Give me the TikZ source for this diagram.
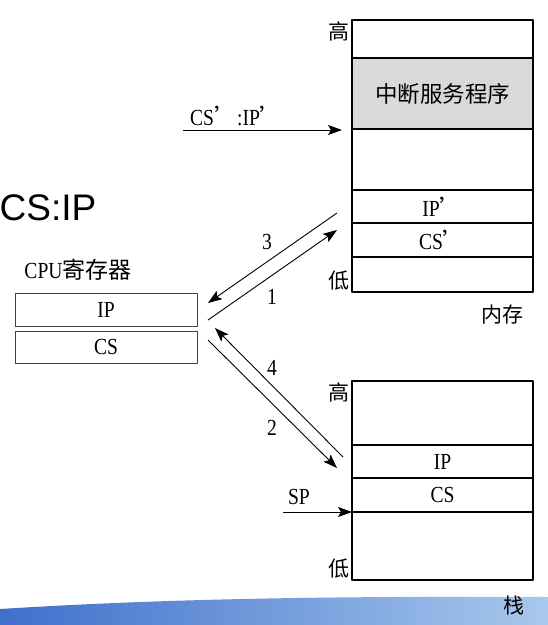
\documentclass[tikz,border=0pt]{standalone}
\usepackage{fontspec}
\setmainfont{Liberation Serif}[FakeStretch=0.85]
\newfontfamily\cjk{Noto Sans CJK SC}
\newfontfamily\arialfont{Liberation Sans}
\usetikzlibrary{arrows.meta,positioning}
\definecolor{swooshdark}{RGB}{62,112,204}
\definecolor{swooshlight}{RGB}{168,200,236}
\newcommand{\quo}{{\cjk ’}}
\begin{document}
\begin{tikzpicture}[x=1pt, y=-1pt, font=\fontsize{23}{27}\selectfont, line join=round, >={Stealth[length=14pt,width=10pt,inset=3pt]},
	cell/.style={draw, line width=1.2pt, minimum width=181pt, inner sep=0pt, outer sep=0pt, anchor=north west},
	reg/.style={draw=black!75, line width=1pt, minimum width=182pt, inner sep=0pt, outer sep=0pt, anchor=north west},
	hanzi/.style={font=\cjk\fontsize{21}{25}\selectfont},
	link/.style={line width=0.9pt}]
	\useasboundingbox (0,0) rectangle (548,625);
	% bottom band of the slide
	\shade[left color=swooshdark, right color=swooshlight] (0,625)--(0,609) .. controls (160,599) and (320,596) .. (548,597)--(548,625)--cycle;
	% memory
	\foreach \y/\h/\n/\t in {20/38/memtop/{}, 129/61/memfree/{}, 190/33/memip/{IP\quo}, 223/34/memcs/{CS\quo}, 257/35/memlow/{}}
		\node[cell, minimum height=\h] (\n) at (352,\y) {\t};
	\node[cell, minimum height=71, fill=black!15, font=\cjk\fontsize{22.5}{26}\selectfont] (isr) at (352,58) {中断服务程序};
	\node[anchor=north east, hanzi, inner sep=2pt] (memhigh) at (memtop.north west) {高};
	\node[anchor=south east, hanzi, inner sep=2pt] (memlowlbl) at (memlow.south west) {低};
	\node[below left=13pt and 9pt of memlow.south east, hanzi, inner sep=0pt] (memname) {内存};
	% stack
	\foreach \y/\h/\n/\t in {381/64/stktop/{}, 445/33/stkip/IP, 478/34/stkcs/CS, 512/68/stklow/{}}
		\node[cell, minimum height=\h] (\n) at (352,\y) {\t};
	\node[anchor=north east, hanzi, inner sep=2pt] (stkhigh) at (stktop.north west) {高};
	\node[anchor=south east, hanzi, inner sep=2pt] (stklowlbl) at (stklow.south west) {低};
	\node[below left=16pt and 8pt of stklow.south east, hanzi, inner sep=0pt] (stkname) {栈};
	% registers
	\node[font=\arialfont\fontsize{37}{40}\selectfont] (csip) at (48,208) {CS:IP};
	\node (cpulbl) at (78,270) {CPU{\cjk 寄存器}};
	\node[reg, minimum height=33] (regip) at (15,293) {IP};
	\node[reg, minimum height=32] (regcs) at (15,331) {CS};
	% arrows
	\coordinate (a3s) at (337,213); \coordinate (a3e) at (208,303);
	\coordinate (a1s) at (208,320); \coordinate (a1e) at (337,230);
	\coordinate (a4s) at (343,457); \coordinate (a4e) at (215,328);
	\coordinate (a2s) at (208,340); \coordinate (a2e) at (337,468);
	\draw[link,->] (a3s)--(a3e);
	\draw[link,->] (a1s)--(a1e);
	\draw[link,->] (a4s)--(a4e);
	\draw[link,->] (a2s)--(a2e);
	\node (n3) at (267,242) {3};
	\node (n1) at (272,297) {1};
	\node (n4) at (272,368) {4};
	\node (n2) at (272,428) {2};
	\coordinate (sps) at (283,512);
	\draw[link,->] (sps)--(stklow.north west);
	\node (splbl) at (299,497) {SP};
	\coordinate (isrs) at (183,130); \coordinate (isre) at (342,130);
	\draw[link,->] (isrs)--(isre);
	\node[anchor=west, inner sep=0pt] (isrlbl) at (190,116) {CS\quo:IP\quo};
\end{tikzpicture}
\end{document}
